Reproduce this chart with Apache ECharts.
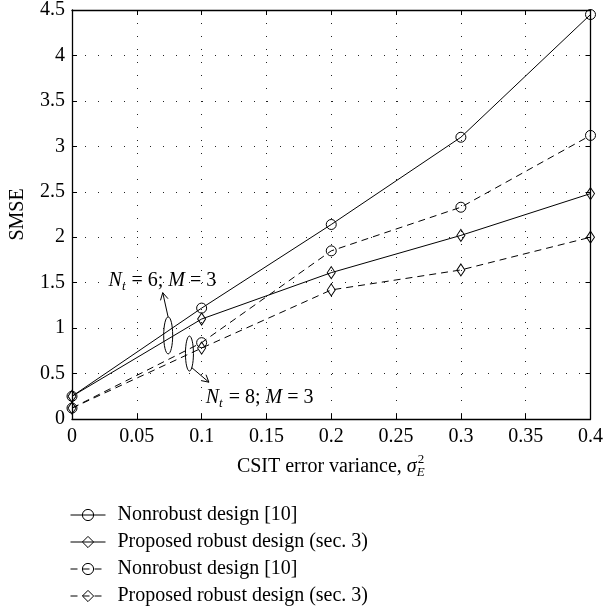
<!DOCTYPE html>
<html><head><meta charset="utf-8">
<script src="https://cdn.jsdelivr.net/npm/echarts@6/dist/echarts.min.js"></script>
<style>html,body{margin:0;padding:0;background:#fff}#c{width:606px;height:611px}</style>
</head><body><div id="c"></div>
<script>
// ---- data ----
const xValues = [0, 0.1, 0.2, 0.3, 0.4];
const nonrobustNt6 = [0.25, 1.22, 2.14, 3.10, 4.45];
const robustNt6 = [0.25, 1.10, 1.61, 2.02, 2.48];
const nonrobustNt8 = [0.12, 0.84, 1.85, 2.33, 3.12];
const robustNt8 = [0.12, 0.78, 1.42, 1.64, 2.00];
const seriesKeys = ['nr6', 'pr6', 'nr8', 'pr8'];
const legendLabels = ['Nonrobust design [10]', 'Proposed robust design (sec. 3)', 'Nonrobust design [10]', 'Proposed robust design (sec. 3)'];
const yAxisTitle = 'SMSE';
const xAxisTitle = 'CSIT error variance, ';
// annotation anchors (data coordinates)
const annot6 = { text: ['N', 't', ' = 6; ', 'M', ' = 3'], at: [0.0282, 1.52] };
const annot8 = { text: ['N', 't', ' = 8; ', 'M', ' = 3'], at: [0.1032, 0.235] };
const ellipse6 = [0.0742, 0.92];
const ellipse8 = [0.0906, 0.72];
const arrow6 = [[0.0741, 1.125], [0.0700, 1.39]];
const arrow8 = [[0.0924, 0.565], [0.1056, 0.405]];

const FAM = "'Liberation Serif','Times New Roman',serif";
const FS = 20;

const chart = echarts.init(document.getElementById('c'), null, { renderer: 'canvas' });

function mk(key, vals, symbol, dashed) {
  return {
    name: key, type: 'line',
    data: xValues.map((x, i) => [x, vals[i]]),
    symbol: symbol,
    symbolSize: symbol === 'circle' ? 10 : [8, 12],
    lineStyle: { color: '#000', width: 1, type: dashed ? [7, 5] : 'solid' },
    itemStyle: { color: 'rgba(255,255,255,0)', borderColor: '#000', borderWidth: 1 },
    emphasis: { disabled: true },
    z: 3
  };
}

const axisLineStyle = { color: '#000', width: 1.3 };
const dotted = { color: '#222', width: 1, type: [1, 12] };

const option = {
  animation: false,
  backgroundColor: '#fff',
  grid: { left: 70, right: 12, top: 10, bottom: 192, containLabel: false },
  xAxis: [
    { type: 'value', min: 0, max: 0.4, interval: 0.05, position: 'bottom',
      axisLine: { show: true, onZero: false, lineStyle: axisLineStyle },
      axisTick: { show: true, inside: true, length: 5, lineStyle: { color: '#000' } },
      axisLabel: { color: '#000', fontSize: FS, fontFamily: FAM, margin: 8 },
      splitLine: { show: true, lineStyle: dotted } },
    { type: 'value', min: 0, max: 0.4, interval: 0.05, position: 'top',
      axisLine: { show: true, onZero: false, lineStyle: axisLineStyle },
      axisTick: { show: true, inside: true, length: 5, lineStyle: { color: '#000' } },
      axisLabel: { show: false }, splitLine: { show: false } }
  ],
  yAxis: [
    { type: 'value', min: 0, max: 4.5, interval: 0.5, position: 'left',
      name: yAxisTitle, nameLocation: 'middle', nameGap: 44,
      nameTextStyle: { color: '#000', fontSize: FS, fontFamily: FAM },
      axisLine: { show: true, onZero: false, lineStyle: axisLineStyle },
      axisTick: { show: true, inside: true, length: 5, lineStyle: { color: '#000' } },
      axisLabel: { color: '#000', fontSize: FS, fontFamily: FAM, margin: 7 },
      splitLine: { show: true, lineStyle: dotted } },
    { type: 'value', min: 0, max: 4.5, interval: 0.5, position: 'right',
      axisLine: { show: true, onZero: false, lineStyle: axisLineStyle },
      axisTick: { show: true, inside: true, length: 5, lineStyle: { color: '#000' } },
      axisLabel: { show: false }, splitLine: { show: false } }
  ],
  legend: {
    orient: 'vertical', left: 70, top: 505, padding: 0,
    itemWidth: 35, itemHeight: 14, itemGap: 7,
    data: seriesKeys,
    formatter: function (n) { return legendLabels[seriesKeys.indexOf(n)]; },
    lineStyle: { width: 1 },
    itemStyle: { borderWidth: 1 },
    textStyle: { color: '#000', fontSize: FS, fontFamily: FAM, lineHeight: 20, padding: [0, 0, 0, 7] },
    selectedMode: false
  },
  series: [
    mk(seriesKeys[0], nonrobustNt6, 'circle', false),
    mk(seriesKeys[1], robustNt6, 'diamond', false),
    mk(seriesKeys[2], nonrobustNt8, 'circle', true),
    mk(seriesKeys[3], robustNt8, 'diamond', true)
  ]
};
chart.setOption(option);

// ---- text helpers for sub/superscripts ----
const mctx = document.createElement('canvas').getContext('2d');
function fontStr(italic, size) { return (italic ? 'italic ' : '') + size + 'px ' + FAM; }
function measure(t, italic, size) { mctx.font = fontStr(italic, size); return mctx.measureText(t).width; }
function txt(x, y, t, italic, size) {
  return { type: 'text', silent: true, z: 10,
    style: { x: x, y: y, text: t, font: fontStr(italic, size), fill: '#000', align: 'left', verticalAlign: 'middle' } };
}
function annotation(a) {
  const p = chart.convertToPixel({ gridIndex: 0 }, a.at);
  let x = p[0]; const y = p[1]; const els = [];
  const t = a.text;
  els.push(txt(x, y, t[0], true, FS)); x += measure(t[0], true, FS);
  els.push(txt(x, y + 6, t[1], true, 13)); x += measure(t[1], true, 13) + 1;
  els.push(txt(x, y, t[2], false, FS)); x += measure(t[2], false, FS);
  els.push(txt(x, y, t[3], true, FS)); x += measure(t[3], true, FS);
  els.push(txt(x, y, t[4], false, FS));
  return els;
}
function arrow(seg) {
  const a = chart.convertToPixel({ gridIndex: 0 }, seg[0]);
  const b = chart.convertToPixel({ gridIndex: 0 }, seg[1]);
  const ang = Math.atan2(b[1] - a[1], b[0] - a[0]);
  const L = 8, W = 0.5;
  const w1 = [b[0] - L * Math.cos(ang - W), b[1] - L * Math.sin(ang - W)];
  const w2 = [b[0] - L * Math.cos(ang + W), b[1] - L * Math.sin(ang + W)];
  return [
    { type: 'line', silent: true, z: 10, shape: { x1: a[0], y1: a[1], x2: b[0], y2: b[1] }, style: { stroke: '#000', lineWidth: 1 } },
    { type: 'polyline', silent: true, z: 10, shape: { points: [w1, b, w2] }, style: { stroke: '#000', lineWidth: 1, fill: null } }
  ];
}
function ell(c, rx, ry) {
  const p = chart.convertToPixel({ gridIndex: 0 }, c);
  return { type: 'ellipse', silent: true, z: 10, shape: { cx: p[0], cy: p[1], rx: rx, ry: ry }, style: { stroke: '#000', lineWidth: 1, fill: null } };
}
function xTitle() {
  const c = chart.convertToPixel({ gridIndex: 0 }, [0.2, 0]);
  const y = c[1] + 48;
  const w1 = measure(xAxisTitle, false, FS), ws = measure('σ', true, FS), wsub = Math.max(measure('2', false, 13), measure('E', true, 13));
  let x = c[0] - (w1 + ws + wsub + 1) / 2;
  const els = [];
  els.push(txt(x, y, xAxisTitle, false, FS)); x += w1;
  els.push(txt(x, y, 'σ', true, FS)); x += ws + 1;
  els.push(txt(x, y - 7, '2', false, 13));
  els.push(txt(x - 1, y + 6, 'E', true, 13));
  return els;
}

const g = [].concat(
  xTitle(),
  annotation(annot6), annotation(annot8),
  [ell(ellipse6, 4.5, 18.5), ell(ellipse8, 4, 17.5)],
  arrow(arrow6), arrow(arrow8)
);
chart.setOption({ graphic: { elements: g } });
</script>
</body></html>
